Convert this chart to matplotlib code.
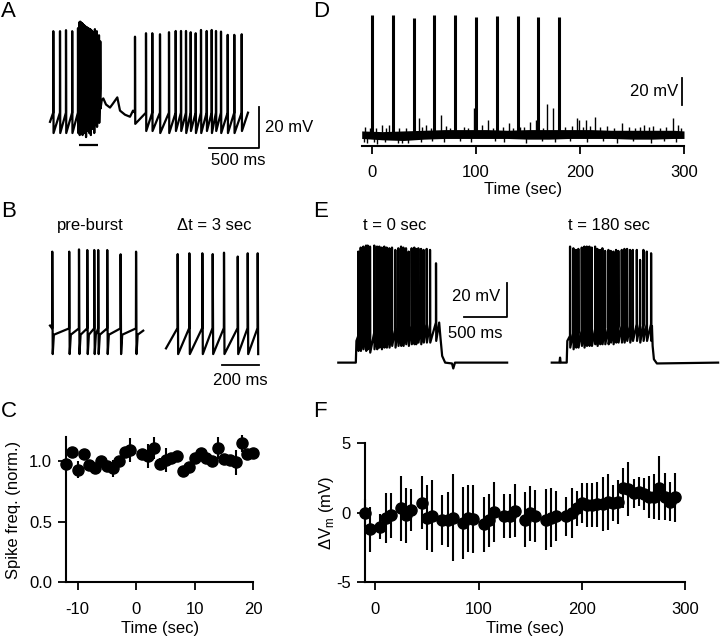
import numpy as np
import matplotlib
matplotlib.use("Agg")
import matplotlib.pyplot as plt

plt.rcParams['font.family'] = ['Liberation Sans', 'DejaVu Sans']
plt.rcParams['font.size'] = 12
plt.rcParams['axes.unicode_minus'] = False

# ---------------- data ----------------
# Panel A (ms, mV relative to AHP trough)
a_pre_t = [33, 100, 160, 222, 280]
a_pre_pk = [50, 50, 50.5, 50, 51.5]
a_burst_t = [295, 302, 309, 316, 323, 330, 337, 344, 351, 358, 366, 374, 382, 390,
             398, 406, 414, 422, 431, 440, 449, 458, 468, 478, 490, 503]
a_burst_pk = [54.5, 54.7, 54.3, 54.0, 53.8, 53.5, 53.0, 52.8, 52.5, 52.2, 52.0, 51.7, 51.5,
              51.2, 51.0, 50.8, 50.5, 50.0, 49.5, 49.0, 51.0, 48.0, 50.0, 46.5, 48.0, 45.0]
a_burst_tr = [-1, 2, 0, 3, -1, 2, 5, 0, 3, -2, 4, 1, 6, 0, 3, -1, 5, 2, 7, 0, 4, 8, 3, 10, 5, 12]
a_post_t = [850, 960, 1023, 1100, 1190, 1257, 1310, 1360, 1407, 1457, 1510, 1567, 1617,
            1660, 1710, 1777, 1843, 1917]
a_post_pk = [47.3, 49, 49, 48.5, 49.5, 50.1, 50.1, 50.1, 49.5, 49, 50.6, 50.1, 50.6,
             50.1, 49.8, 48.2, 48.2, 48.5]
a_post_tr = [4.5, 1, 1, 0, 0, 1, 1, 0, 1, 0, 0, 1, 0, 1, 0, 0, 0, 1]
a_slow_t = [0, 517, 533, 560, 600, 630, 673, 700, 750, 800, 830, 1980]
a_slow_v = [5.5, 16, 17, 14, 12.5, 14.5, 17.5, 11, 9, 8, 11, 10]

# Panel B
b_pre_t = [12, 102, 154, 198, 235, 256, 304, 375, 457]
b_pre_pk = [50.3, 50.3, 51.4, 51.1, 51.1, 51.1, 51.1, 49.0, 50.3]
b_post_t = [62, 124, 193, 248, 308, 381, 434, 487]
b_post_pk = [49.1, 49.5, 49.5, 49.1, 49.8, 47.9, 49.5, 49.5]

# Panel C
c_t = [-12, -11, -10, -9, -8, -7, -6, -5, -4, -3, -2, -1,
       1, 2, 3, 4, 5, 6, 7, 8, 9, 10, 11, 12, 13, 14, 15, 16, 17, 18, 19, 20]
c_v = [0.98, 1.08, 0.93, 1.06, 0.97, 0.94, 1.00, 0.96, 0.94, 1.00, 1.08, 1.09,
       1.06, 1.04, 1.11, 0.98, 1.01, 1.03, 1.04, 0.92, 0.95, 1.03, 1.07, 1.03,
       1.00, 1.11, 1.02, 1.01, 0.99, 1.15, 1.06, 1.07]
c_err = [0.03, 0.03, 0.07, 0.03, 0.03, 0.03, 0.03, 0.03, 0.07, 0.03, 0.03, 0.10,
         0.03, 0.10, 0.09, 0.05, 0.10, 0.03, 0.03, 0.03, 0.03, 0.03, 0.03, 0.03,
         0.03, 0.09, 0.03, 0.03, 0.10, 0.07, 0.03, 0.03]

# Panel D (sec, mV)
d_burst_t = [0, 20, 40, 60, 80, 100, 120, 140, 160, 180]
d_burst_pk = [27.9, 27.9, 25.5, 27.9, 27.9, 26.7, 27.2, 27.2, 26.7, 26.2]
d_env_t = [-10, 10, 30, 50, 70, 90, 110, 130, 150, 170, 190, 210, 230, 250, 270, 290, 300]
d_env_hi = [-57, -57.5, -57, -56.5, -56, -56, -56, -56.5, -56, -56, -56,
            -56, -56.5, -56.5, -56.5, -56.5, -57]
d_env_lo = [-62.5, -63.5, -64, -63, -62.5, -62.5, -62.5, -62.5, -63, -63, -62.5, -62.5,
            -62.5, -63, -63, -62.5, -62.5]
d_up_t = [-7, -2, 4, 9.6, 13, 16, 26, 33, 44.7, 48, 52, 57, 66, 71, 75, 88, 92, 98, 106,
          111, 116, 126, 131.8, 136, 142, 146, 152, 158, 164, 168, 173.7, 186, 192, 196.7,
          199, 203, 206, 210, 214, 219, 226, 233, 240, 247, 253, 258, 262, 266, 270, 277,
          283, 289.5, 294, 297]
d_up_v = [-54, -55, -54.5, -52.7, -55, -52.7, -54.5, -55, -47.8, -54, -52.7, -54.5, -45.3,
          -53.4, -54.5, -54, -55, -40.4, -52.7, -49, -54.5, -54, -51.4, -54.5, -53.9, -54,
          -50.3, -49, -54.5, -37.3, -40.4, -54, -53.5, -47.8, -49, -54, -49, -53.5, -46.6,
          -54, -53.5, -54.5, -51.4, -54, -54.5, -54, -52.7, -54, -53.4, -54.5, -54, -47.8,
          -52.7, -54.5]
d_dn_t = [-8, -5, 2, 5, 12, 25, 29, 35, 47, 58, 69, 85, 95, 118, 127, 148, 163, 176, 190,
          207, 222, 236, 251, 268, 281, 292]
d_dn_v = [-65, -66, -65, -66.5, -65, -66, -65.5, -65.5, -65, -64.5, -65, -64.5, -65,
          -64.5, -65, -65.5, -64.5, -65, -64.5, -65, -64.5, -65.5, -64.5, -65.5, -64.5, -65]

# Panel E (ms, mV)
e0_t = [234, 262, 293, 324, 344, 371, 421, 453, 480, 508, 538, 566, 597, 628, 667, 702,
        734, 761, 792, 823, 858, 889, 909, 936, 968, 998, 1034, 1073, 1143]
e0_pk = [6.5, 8.9, 9.5, 10.1, 10.1, 9.5, 10.1, 9.5, 9.5, 8.9, 9.5, 8.9, 8.5, 8.9, 7.5,
         8.5, 9.5, 8.9, 8.5, 6.5, 8.5, 8.9, 8.1, 8.5, 8.1, 7.5, 8.1, 7.5, -0.5]
e0_tr = [-53, -53, -52, -53, -52, -54, -52, -52, -51, -52, -51, -51, -51, -50, -51, -50,
         -50, -50, -49, -50, -49, -49, -49, -48, -49, -48, -48, -48, -47]
e0_thr = [-44, -43, -43, -42, -43, -45, -42, -42, -41, -41, -41, -40, -40, -40, -40, -39,
          -39, -39, -39, -38, -38, -38, -38, -38, -37, -37, -37, -37, -36]
e0_slow_t = [0, 205, 212, 1180, 1195, 1215, 1250, 1330, 1345, 1365, 1975]
e0_slow_v = [-60, -60, -47, -36, -45, -56, -60, -60.5, -63.5, -60, -60]
e1_t = [214, 253, 284, 311, 351, 381, 410, 440, 468, 507, 534, 565, 592, 624, 663, 691,
        721, 752, 779, 819, 850, 881, 916, 948, 995, 1033, 1072, 1112, 1162]
e1_pk = [9.5, 8.5, 7.5, 8.1, 8.9, 9.5, 9.5, 9.5, 8.9, 9.5, 8.1, 7.5, 8.5, 6.9, 7.5, 6.9,
         6.5, 7.5, 6.9, 7.5, 8.1, 8.1, 7.5, 7.5, 7.5, 1.5, 7.5, 6.5, 5.5]
e1_tr = [-51, -52, -51, -51, -50, -51, -50, -50, -50, -49, -50, -49, -49, -49, -49, -48,
         -49, -48, -48, -48, -48, -47, -48, -47, -47, -48, -47, -47, -47]
e1_thr = [-44, -42, -42, -42, -41, -41, -41, -41, -40, -40, -40, -40, -40, -39, -39, -39,
          -39, -39, -38, -38, -38, -38, -38, -38, -37, -37, -37, -37, -37]
e1_slow_t = [0, 90, 97, 104, 175, 182, 1172, 1180, 1195, 1230, 1946]
e1_slow_v = [-60, -60, -57, -60, -60, -47, -38, -50, -58, -60.5, -60]

# Panel F (sec, mV)
f_t = [-10, -5, 5, 10, 15, 25, 30, 35, 45, 50, 55, 65, 70, 75, 85, 90, 95, 105, 110, 115,
       125, 130, 135, 145, 150, 155, 165, 170, 175, 185, 190, 195, 200, 205, 210, 215,
       220, 225, 230, 235, 240, 245, 250, 255, 260, 265, 270, 275, 280, 285, 290]
f_v = [0.0, -1.2, -1.0, -0.4, -0.2, 0.3, -0.2, 0.2, 0.7, -0.35, -0.25, -0.5, -0.5, -0.35,
       -0.75, -0.4, -0.45, -0.85, -0.55, 0.05, -0.25, -0.25, 0.15, -0.5, -0.05, -0.25,
       -0.5, -0.35, -0.25, -0.25, 0.0, 0.3, 0.7, 0.55, 0.55, 0.6, 0.6, 0.75, 0.7, 0.75,
       1.75, 1.7, 1.4, 1.5, 1.35, 1.1, 1.15, 1.75, 1.15, 0.8, 1.1]
f_err = [1.0, 1.6, 0.9, 1.8, 1.6, 2.3, 2.0, 1.5, 1.9, 2.3, 2.6, 1.8, 2.0, 3.1, 2.6, 2.4,
         2.45, 2.0, 1.9, 2.15, 1.6, 1.6, 1.9, 2.0, 1.95, 1.85, 2.2, 2.1, 1.8, 1.4, 1.8,
         1.25, 1.45, 1.55, 1.6, 1.6, 1.95, 2.0, 1.3, 1.6, 1.45, 1.95, 1.05, 1.05, 1.15,
         1.5, 1.6, 2.3, 1.7, 1.4, 1.75]

# ---------------- helpers ----------------
W, H = 720, 636
fig = plt.figure(figsize=(7.2, 6.36), dpi=100)
LW = 1.6


def px_axes(x0, y0, x1, y1, off=True):
    ax = fig.add_axes([x0 / W, 1 - y1 / H, (x1 - x0) / W, (y1 - y0) / H])
    if off:
        ax.set_axis_off()
    return ax


def build_trace(slow_t, slow_v, trains):
    pts = list(zip(slow_t, slow_v))
    for sp_t, thr, pk, tr, rec in trains:
        n = len(sp_t)
        thr = np.broadcast_to(np.asarray(thr, float), (n,))
        pk = np.broadcast_to(np.asarray(pk, float), (n,))
        tr = np.broadcast_to(np.asarray(tr, float), (n,))
        for i in range(n):
            s = sp_t[i]
            pts += [(s - 0.8, thr[i]), (s, pk[i]), (s + 2.5, tr[i])]
            if rec is not None:
                pts.append((s + 2.5 + rec[0], rec[1]))
    pts.sort(key=lambda p: p[0])
    arr = np.array(pts)
    return arr[:, 0], arr[:, 1]


def letter(x, y, s):
    fig.text(x / W, 1 - y / H, s, fontsize=16, ha='left', va='top')


def style_axes(ax):
    for s in ['top', 'right']:
        ax.spines[s].set_visible(False)
    for s in ['left', 'bottom']:
        ax.spines[s].set_linewidth(1.5)
    ax.tick_params(direction='out', length=6, width=1.3, labelsize=12)
    ax.tick_params(axis='x', pad=8)
    ax.tick_params(axis='y', pad=4)


# ---------------- Panel A ----------------
axA = px_axes(40, 10, 275, 175)
axA.set_xlim(-100, 2250)
axA.set_ylim(-20.6, 60.4)
tA, vA = build_trace(a_slow_t, a_slow_v, [
    (a_pre_t, 10, a_pre_pk, 0, None),
    (a_burst_t, 22, a_burst_pk, a_burst_tr, None),
    (a_post_t, 10, a_post_pk, a_post_tr, None)])
axA.plot(tA, vA, color='k', lw=LW)
axA.plot([293, 483], [-6, -6], color='k', lw=1.6, solid_capstyle='butt')
axA.plot([1590, 2090, 2090], [-7.2, -7.2, 12.8], color='k', lw=1.3, clip_on=False)
axA.text(2150, 2.9, '20 mV', ha='left', va='center')
axA.text(1878, -13.6, '500 ms', ha='center', va='center')

# ---------------- Panel B ----------------
axB = px_axes(40, 215, 275, 395)
axB.set_xlim(-53.1, 1194.8)
axB.set_ylim(-20.1, 68.3)
tB0, vB0 = build_trace([0, 495], [14, 11.5],
                       [(b_pre_t, 12.6, b_pre_pk, 0, (6, 9.5))])
axB.plot(tB0, vB0, color='k', lw=LW)
B_OFF = 616
tB1, vB1 = build_trace([B_OFF], [2.8],
                       [(list(np.asarray(b_post_t) + B_OFF), 12.8, b_post_pk, 0, None)])
axB.plot(tB1, vB1, color='k', lw=LW)
axB.plot([912, 1112], [-5.4, -5.4], color='k', lw=1.3)
axB.text(1009, -12.8, '200 ms', ha='center', va='center')
axB.text(212, 62.9, 'pre-burst', ha='center', va='center')
axB.text(871, 62.9, 'Δt = 3 sec', ha='center', va='center')

# ---------------- Panel C ----------------
axC = px_axes(66, 437, 253.3, 582.3, off=False)
style_axes(axC)
cont = axC.errorbar(c_t, c_v, yerr=c_err, fmt='o', color='k', ms=8, elinewidth=1.5, capsize=0)
for art in cont.get_children():
    art.set_clip_on(False)
axC.set_xlim(-12, 20)
axC.set_ylim(0, 1.2)
axC.set_xticks([-10, 0, 10, 20])
axC.set_yticks([0, 0.5, 1.0])
axC.set_yticklabels(['0.0', '0.5', '1.0'])
axC.set_xlabel('Time (sec)', labelpad=3)
axC.set_ylabel('Spike freq. (norm.)', labelpad=6)

# ---------------- Panel D ----------------
axD = px_axes(361.7, 5, 684, 145.7, off=False)
for s in ['top', 'right', 'left']:
    axD.spines[s].set_visible(False)
axD.spines['bottom'].set_linewidth(1.5)
axD.tick_params(axis='x', direction='out', length=6, width=1.3, labelsize=12, pad=8)
axD.set_yticks([])
axD.set_xlim(-10, 300)
axD.set_ylim(-67.8, 35.2)
axD.fill_between(d_env_t, d_env_lo, d_env_hi, color='k', lw=0)
axD.vlines(d_up_t, -58, d_up_v, color='k', lw=1.0)
axD.vlines(d_dn_t, d_dn_v, -61, color='k', lw=1.0)
axD.vlines(d_burst_t, -60, d_burst_pk, color='k', lw=2.2)
axD.set_xticks([0, 100, 200, 300])
axD.set_xlabel('Time (sec)', labelpad=1)
axD.plot([298.4, 298.4], [-38, -18], color='k', lw=1.3, clip_on=False)
axD.text(294.2, -28, '20 mV', ha='right', va='center')

# ---------------- Panel E ----------------
axE = px_axes(330, 215, 720, 385)
axE.set_xlim(-97.1, 4465.1)
axE.set_ylim(-73.4, 28.4)
tE0, vE0 = build_trace(e0_slow_t, e0_slow_v, [(e0_t, e0_thr, e0_pk, e0_tr, None)])
axE.plot(tE0, vE0, color='k', lw=LW)
E_OFF = 2497
tE1, vE1 = build_trace(list(np.asarray(e1_slow_t) + E_OFF), e1_slow_v,
                       [(list(np.asarray(e1_t) + E_OFF), e1_thr, e1_pk, e1_tr, None)])
axE.plot(tE1, vE1, color='k', lw=LW)
axE.plot([1471, 1970, 1970], [-32.5, -32.5, -12.5], color='k', lw=1.3)
axE.text(1892, -20.5, '20 mV', ha='right', va='center')
axE.text(1600, -42.4, '500 ms', ha='center', va='center')
axE.text(660, 21.9, 't = 0 sec', ha='center', va='center')
axE.text(3167, 21.9, 't = 180 sec', ha='center', va='center')

# ---------------- Panel F ----------------
axF = px_axes(365, 443, 685.3, 582.3, off=False)
style_axes(axF)
cont = axF.errorbar(f_t, f_v, yerr=f_err, fmt='o', color='k', ms=8, elinewidth=1.5, capsize=0)
for art in cont.get_children():
    art.set_clip_on(False)
axF.set_xlim(-10, 300)
axF.set_ylim(-5, 5)
axF.set_xticks([0, 100, 200, 300])
axF.set_yticks([-5, 0, 5])
axF.set_xlabel('Time (sec)', labelpad=3)
axF.set_ylabel('ΔV$_\\mathregular{m}$ (mV)', labelpad=0)

# ---------------- letters ----------------
letter(1, 1, 'A')
letter(313, 1, 'D')
letter(1, 201, 'B')
letter(313, 201, 'E')
letter(1, 401, 'C')
letter(313, 401, 'F')

fig.savefig('out.png', dpi=100)
